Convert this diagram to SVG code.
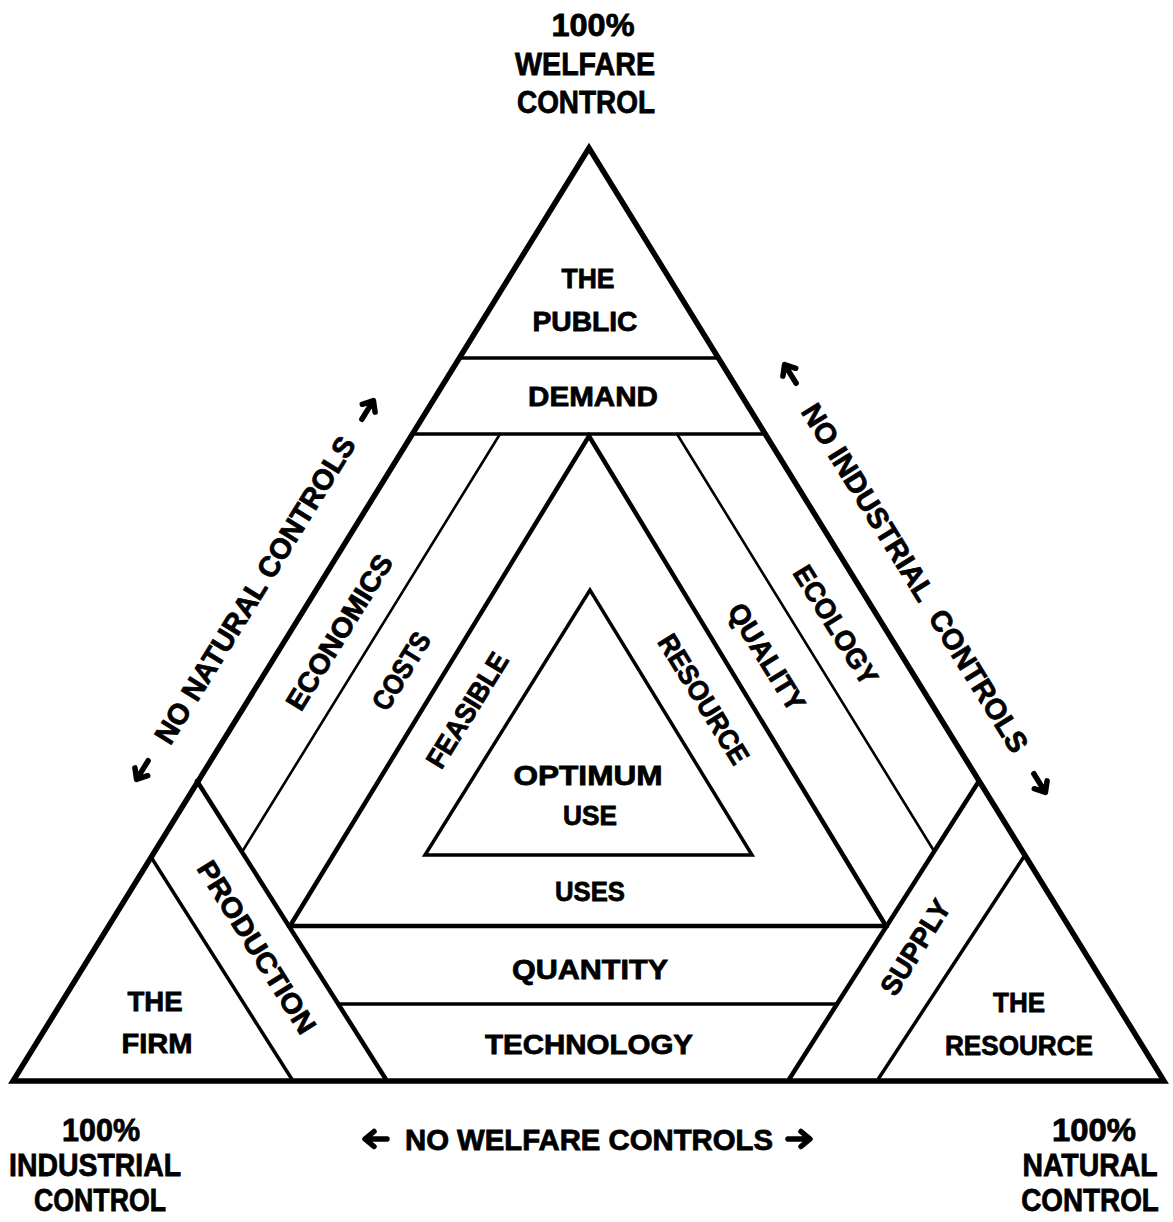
<svg xmlns="http://www.w3.org/2000/svg" width="1173" height="1222" viewBox="0 0 1173 1222">
  <style>
    .ln { fill: none; stroke: #000; stroke-linejoin: miter; stroke-linecap: round; }
    .w5 { stroke-width: 5.5; }
    .w4 { stroke-width: 4.5; }
    .w3 { stroke-width: 3.5; }
    .w2 { stroke-width: 2.6; }
    text { font-family: "Liberation Sans", Arial, sans-serif; font-weight: bold; fill: #000; stroke: #000; stroke-width: 0.8px; text-anchor: middle; }
    .lb { font-size: 28px; }
    .cn { font-size: 32px; }
    .ax { font-size: 29px; }
  </style>

  <defs>
    <!-- short heavy arrow, tip at the origin, pointing along +x -->
    <g id="arrow">
      <path d="M-25,0 H-4 M-12,-7.5 L-3,0 L-12,7.5" fill="none" stroke="#000" stroke-width="5.5" stroke-linecap="round" stroke-linejoin="round"/>
    </g>
  </defs>

  <rect width="1173" height="1222" fill="#fff"/>

  <!-- framework lines of the triangle -->
  <g id="connectors">
    <!-- outer triangle -->
    <polygon class="ln w5" points="589,148 13,1081 1164,1081"/>
    <!-- public / demand bands -->
    <line class="ln w3" x1="459" y1="358" x2="718" y2="358"/>
    <line class="ln w3" x1="412" y1="434" x2="765" y2="434"/>
    <!-- feasible uses triangle -->
    <polyline class="ln w4" points="290,926 589,436 886,926"/>
    <!-- uses / quantity divider -->
    <line class="ln w4" x1="289" y1="926" x2="887" y2="926"/>
    <!-- quantity / technology divider -->
    <line class="ln w3" x1="338" y1="1004" x2="837" y2="1004"/>
    <!-- optimum use triangle -->
    <polygon class="ln w3" points="590,590 425,855 752,855"/>
    <!-- production band -->
    <line class="ln w4" x1="197" y1="781" x2="387" y2="1081"/>
    <line class="ln w3" x1="151" y1="857" x2="293" y2="1081"/>
    <!-- supply band -->
    <line class="ln w4" x1="979" y1="781" x2="788" y2="1081"/>
    <line class="ln w3" x1="1025" y1="855" x2="877" y2="1081"/>
    <!-- economics / costs divider -->
    <line class="ln w2" x1="500" y1="434" x2="242" y2="852"/>
    <!-- ecology / quality divider -->
    <line class="ln w2" x1="677" y1="434" x2="934" y2="851"/>
  </g>

  <!-- corner headings -->
  <g id="welfare-control">
    <text class="cn" x="593" y="36" textLength="83" lengthAdjust="spacingAndGlyphs">100%</text>
    <text class="cn" x="585" y="75" textLength="140" lengthAdjust="spacingAndGlyphs">WELFARE</text>
    <text class="cn" x="586" y="113" textLength="138" lengthAdjust="spacingAndGlyphs">CONTROL</text>
  </g>
  <g id="industrial-control">
    <text class="cn" x="101" y="1141" textLength="78" lengthAdjust="spacingAndGlyphs">100%</text>
    <text class="cn" x="95" y="1176" textLength="172" lengthAdjust="spacingAndGlyphs">INDUSTRIAL</text>
    <text class="cn" x="100" y="1211" textLength="132" lengthAdjust="spacingAndGlyphs">CONTROL</text>
  </g>
  <g id="natural-control">
    <text class="cn" x="1094" y="1141" textLength="84" lengthAdjust="spacingAndGlyphs">100%</text>
    <text class="cn" x="1090" y="1176" textLength="135" lengthAdjust="spacingAndGlyphs">NATURAL</text>
    <text class="cn" transform="translate(1090,1211) scale(0.87,1)">CONTROL</text>
  </g>

  <!-- side axes -->
  <g id="no-welfare-controls">
    <use href="#arrow" transform="translate(362,1139) rotate(180)"/>
    <text class="ax" x="589" y="1150" textLength="368" lengthAdjust="spacingAndGlyphs">NO WELFARE CONTROLS</text>
    <use href="#arrow" transform="translate(813,1139)"/>
  </g>
  <g id="no-natural-controls">
    <use href="#arrow" transform="translate(135,782) rotate(121.7)"/>
    <text class="ax" transform="translate(255,590) rotate(-58.3)" y="10" textLength="355" lengthAdjust="spacingAndGlyphs">NO NATURAL CONTROLS</text>
    <use href="#arrow" transform="translate(375,398) rotate(-58.3)"/>
  </g>
  <g id="no-industrial-controls">
    <use href="#arrow" transform="translate(783,362) rotate(-121.7)"/>
    <text class="ax" transform="translate(915,578) rotate(58.3)" y="10" textLength="404" lengthAdjust="spacingAndGlyphs">NO INDUSTRIAL&#160; CONTROLS</text>
    <use href="#arrow" transform="translate(1047,795) rotate(58.3)"/>
  </g>

  <!-- corner regions -->
  <g id="the-public">
    <text class="lb" x="588" y="288" textLength="53" lengthAdjust="spacingAndGlyphs">THE</text>
    <text class="lb" x="585" y="331" textLength="105" lengthAdjust="spacingAndGlyphs">PUBLIC</text>
  </g>
  <g id="the-firm">
    <text class="lb" x="155" y="1011" textLength="55" lengthAdjust="spacingAndGlyphs">THE</text>
    <text class="lb" x="157" y="1053" textLength="71" lengthAdjust="spacingAndGlyphs">FIRM</text>
  </g>
  <g id="the-resource">
    <text class="lb" x="1019" y="1012" textLength="52" lengthAdjust="spacingAndGlyphs">THE</text>
    <text class="lb" x="1019" y="1055" textLength="148" lengthAdjust="spacingAndGlyphs">RESOURCE</text>
  </g>

  <!-- bands -->
  <g id="demand">
    <text class="lb" x="593" y="406" textLength="130" lengthAdjust="spacingAndGlyphs">DEMAND</text>
  </g>
  <g id="production">
    <text class="lb" transform="translate(257,947) rotate(58)" y="10" textLength="198" lengthAdjust="spacingAndGlyphs">PRODUCTION</text>
  </g>
  <g id="supply">
    <text class="lb" transform="translate(915,947) rotate(-58)" y="10" textLength="107" lengthAdjust="spacingAndGlyphs">SUPPLY</text>
  </g>
  <g id="economics">
    <text class="lb" transform="translate(339,632) rotate(-58.3)" y="10" textLength="177" lengthAdjust="spacingAndGlyphs">ECONOMICS</text>
  </g>
  <g id="costs">
    <text class="lb" transform="translate(401,671) rotate(-58.3)" y="10" textLength="86" lengthAdjust="spacingAndGlyphs">COSTS</text>
  </g>
  <g id="ecology">
    <text class="lb" transform="translate(836,625) rotate(58.3)" y="10" textLength="135" lengthAdjust="spacingAndGlyphs">ECOLOGY</text>
  </g>
  <g id="quality">
    <text class="lb" transform="translate(767,657) rotate(58.3)" y="10" textLength="121" lengthAdjust="spacingAndGlyphs">QUALITY</text>
  </g>
  <g id="technology">
    <text class="lb" x="589" y="1054" textLength="208" lengthAdjust="spacingAndGlyphs">TECHNOLOGY</text>
  </g>
  <g id="quantity">
    <text class="lb" x="590" y="979" textLength="156" lengthAdjust="spacingAndGlyphs">QUANTITY</text>
  </g>

  <!-- feasible resource uses -->
  <g id="feasible-resource-uses">
    <text class="lb" transform="translate(467,710) rotate(-58.3)" y="10" textLength="130" lengthAdjust="spacingAndGlyphs">FEASIBLE</text>
    <text class="lb" transform="translate(704,699) rotate(58.3)" y="10" textLength="147" lengthAdjust="spacingAndGlyphs">RESOURCE</text>
    <text class="lb" x="590" y="901" textLength="70" lengthAdjust="spacingAndGlyphs">USES</text>
  </g>
  <g id="optimum-use">
    <text class="lb" x="588" y="785" textLength="149" lengthAdjust="spacingAndGlyphs">OPTIMUM</text>
    <text class="lb" x="590" y="825" textLength="54" lengthAdjust="spacingAndGlyphs">USE</text>
  </g>
</svg>
